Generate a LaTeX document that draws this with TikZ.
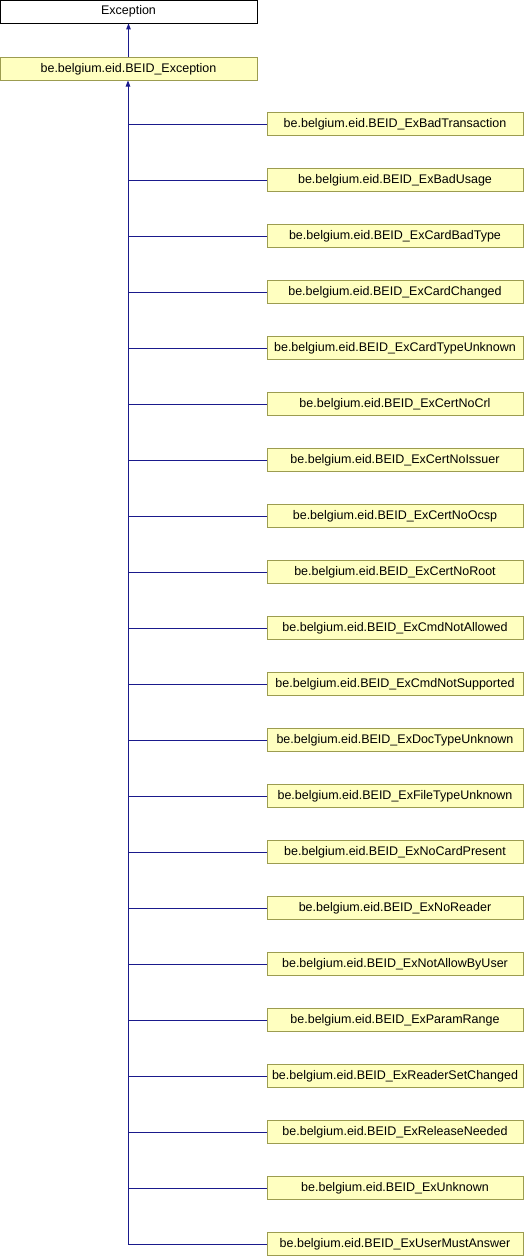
\documentclass[tikz,border=0pt]{standalone}
\usepackage{fontspec}
\setmainfont{Liberation Sans}
\usetikzlibrary{arrows.meta}
\definecolor{boxfill}{HTML}{FFFFC0}
\definecolor{boxline}{HTML}{9C9C50}
\definecolor{edgecol}{HTML}{1A1A8C}
\begin{document}
\begin{tikzpicture}[x=1pt,y=1pt,
  cls/.style={draw=boxline,fill=boxfill,line width=0.8pt,minimum height=23pt,inner sep=0pt,font=\fontsize{12.5}{14}\selectfont},
  top/.style={cls,draw=black,fill=white},
  edge/.style={draw=edgecol,line width=0.9pt},
  inh/.style={edge,-{Triangle[width=4.5pt,length=6pt]}}]
\useasboundingbox (0,0) rectangle (524,-1256);
\node[top,minimum width=257pt] (ex) at (128.5,-11.5) {Exception};
\node[cls,minimum width=257pt] (bex) at (128.5,-69) {be.belgium.eid.BEID\_Exception};
\draw[inh] (bex.north) -- (ex.south);
\coordinate (trunktop) at (128,-80.5);
\foreach \n [count=\i from 0] in {ExBadTransaction,ExBadUsage,ExCardBadType,ExCardChanged,ExCardTypeUnknown,ExCertNoCrl,ExCertNoIssuer,ExCertNoOcsp,ExCertNoRoot,ExCmdNotAllowed,ExCmdNotSupported,ExDocTypeUnknown,ExFileTypeUnknown,ExNoCardPresent,ExNoReader,ExNotAllowByUser,ExParamRange,ExReaderSetChanged,ExReleaseNeeded,ExUnknown,ExUserMustAnswer}{
  \node[cls,minimum width=256pt] (c\i) at (395,-124-56*\i) {be.belgium.eid.BEID\_\n};
}
\draw[inh] (c20.west) -| (trunktop);
\foreach \i in {0,...,19}{
  \draw[edge] (c\i.west) -- (128,-124-56*\i);
}
\end{tikzpicture}
\end{document}
